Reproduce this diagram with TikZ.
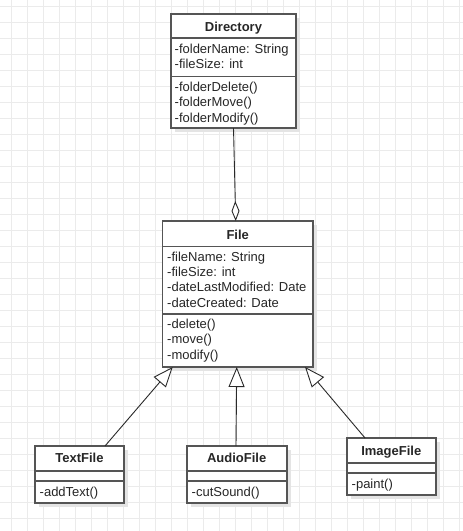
\documentclass[tikz,border=0pt]{standalone}
\usepackage{fontspec}
\setmainfont{Liberation Sans}
\usetikzlibrary{arrows.meta}
\definecolor{gridc}{HTML}{EBEBEB}
\definecolor{boxc}{HTML}{555555}
\definecolor{shadowc}{HTML}{E4E4E4}
\definecolor{linec}{HTML}{2A2A2A}
\tikzset{
  umlbox/.style={draw=boxc, line width=1.6pt, fill=white, anchor=north west, inner sep=0pt, outer sep=0pt},
  shadowbox/.style={fill=shadowc, draw=none, anchor=north west, inner sep=0pt, outer sep=0pt},
  sepline/.style={draw=boxc, line width=1.6pt},
  titletext/.style={font=\fontsize{13}{15}\selectfont\bfseries, anchor=base, inner sep=0pt, text=black!85},
  member/.style={font=\fontsize{13}{15}\selectfont, anchor=base west, inner sep=0pt, text=black!85},
  inherit/.style={draw=linec, line width=0.9pt, -{Triangle[open, length=20pt, width=16pt, fill=white, line width=0.9pt]}},
  aggreg/.style={draw=linec, line width=0.9pt, -{Diamond[open, length=20pt, width=8pt, fill=white, line width=0.9pt]}},
}
\begin{document}
\begin{tikzpicture}[x=1pt,y=-1pt]
\useasboundingbox (0,0) rectangle (463,531);
\fill[white] (0,0) rectangle (463,531);
\foreach \i in {0,...,28} {\draw[gridc, line width=1pt] (11.5+16*\i,0) -- (11.5+16*\i,531);}
\foreach \j in {0,...,32} {\draw[gridc, line width=1pt] (0,6+16*\j) -- (463,6+16*\j);}

% Directory
\node[shadowbox, minimum width=125pt, minimum height=114pt] (dirS) at (175,18) {};
\node[umlbox, minimum width=125pt, minimum height=114pt] (dir) at (171,14) {};
\draw[sepline] ([yshift=-24pt]dir.north west) -- ([yshift=-24pt]dir.north east);
\draw[sepline] ([yshift=-62.5pt]dir.north west) -- ([yshift=-62.5pt]dir.north east);
\node[titletext] (dirT) at (233.5,31.5) {Directory};
\node[member] (dirA1) at (174.5,53.3) {-folderName: String};
\node[member] (dirA2) at (174.5,68.8) {-fileSize: int};
\node[member] (dirM1) at (174.5,91) {-folderDelete()};
\node[member] (dirM2) at (174.5,106.5) {-folderMove()};
\node[member] (dirM3) at (174.5,122) {-folderModify()};

% File
\node[shadowbox, minimum width=150.5pt, minimum height=146pt] (fileS) at (166.5,225) {};
\node[umlbox, minimum width=150.5pt, minimum height=146pt] (file) at (162.5,221) {};
\draw[sepline] ([yshift=-25.5pt]file.north west) -- ([yshift=-25.5pt]file.north east);
\draw[sepline] ([yshift=-93pt]file.north west) -- ([yshift=-93pt]file.north east);
\node[titletext] (fileT) at (237.7,239) {File};
\node[member] (fileA1) at (167,261) {-fileName: String};
\node[member] (fileA2) at (167,276.3) {-fileSize: int};
\node[member] (fileA3) at (167,291.6) {-dateLastModified: Date};
\node[member] (fileA4) at (167,307) {-dateCreated: Date};
\node[member] (fileM1) at (167,328) {-delete()};
\node[member] (fileM2) at (167,343.5) {-move()};
\node[member] (fileM3) at (167,359) {-modify()};

% TextFile
\node[shadowbox, minimum width=89pt, minimum height=56.7pt] (tfS) at (39,450) {};
\node[umlbox, minimum width=89pt, minimum height=56.7pt] (tf) at (35,446) {};
\draw[sepline] ([yshift=-25pt]tf.north west) -- ([yshift=-25pt]tf.north east);
\draw[sepline] ([yshift=-34.7pt]tf.north west) -- ([yshift=-34.7pt]tf.north east);
\node[titletext] (tfT) at (79.5,462.7) {TextFile};
\node[member] (tfM1) at (39.5,496.7) {-addText()};

% AudioFile
\node[shadowbox, minimum width=100pt, minimum height=56.7pt] (afS) at (190.7,450) {};
\node[umlbox, minimum width=100pt, minimum height=56.7pt] (af) at (186.7,446) {};
\draw[sepline] ([yshift=-25pt]af.north west) -- ([yshift=-25pt]af.north east);
\draw[sepline] ([yshift=-34.7pt]af.north west) -- ([yshift=-34.7pt]af.north east);
\node[titletext] (afT) at (236.7,462.7) {AudioFile};
\node[member] (afM1) at (191.5,496.7) {-cutSound()};

% ImageFile
\node[shadowbox, minimum width=89.3pt, minimum height=57pt] (ifS) at (350.7,442) {};
\node[umlbox, minimum width=89.3pt, minimum height=57pt] (imf) at (346.7,438) {};
\draw[sepline] ([yshift=-24.7pt]imf.north west) -- ([yshift=-24.7pt]imf.north east);
\draw[sepline] ([yshift=-34.7pt]imf.north west) -- ([yshift=-34.7pt]imf.north east);
\node[titletext] (ifT) at (391.3,455) {ImageFile};
\node[member] (ifM1) at (351.5,488.3) {-paint()};

% connectors
\draw[aggreg] (dir.south) -- ([xshift=-2pt]file.north);
\draw[inherit] ([xshift=25.5pt]tf.north) -- ([xshift=-65pt]file.south);
\draw[inherit] ([xshift=-0.7pt]af.north) -- ([xshift=-1pt]file.south);
\draw[inherit] ([xshift=-26.3pt]imf.north) -- ([xshift=67.3pt]file.south);
\end{tikzpicture}
\end{document}
